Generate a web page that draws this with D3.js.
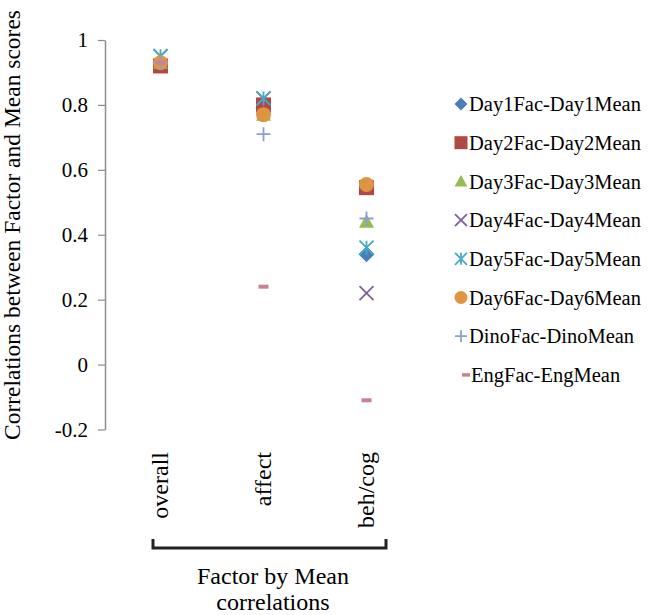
<!DOCTYPE html>
<html>
<head>
<meta charset="utf-8">
<script src="https://cdn.jsdelivr.net/npm/d3@7"></script>
<style>
  html, body { margin: 0; padding: 0; background: #fff; }
  svg { display: block; }
  text { font-family: "Liberation Serif", "Times New Roman", serif; fill: #000; }
</style>
</head>
<body>
<svg id="chart" width="658" height="615"></svg>
<script>
// ---------- data ----------
const categories = ["overall", "affect", "beh/cog"];
const seriesNames = ["Day1Fac-Day1Mean", "Day2Fac-Day2Mean", "Day3Fac-Day3Mean", "Day4Fac-Day4Mean",
                     "Day5Fac-Day5Mean", "Day6Fac-Day6Mean", "DinoFac-DinoMean", "EngFac-EngMean"];
const day1Values = [0.93, 0.79, 0.34];
const day2Values = [0.92, 0.80, 0.545];
const day3Values = [0.93, 0.77, 0.44];
const day4Values = [0.95, 0.82, 0.22];
const day5Values = [0.95, 0.82, 0.36];
const day6Values = [0.93, 0.77, 0.555];
const dinoValues = [0.93, 0.71, 0.45];
const engValues  = [0.93, 0.24, -0.11];
const yTickValues = [-0.2, 0, 0.2, 0.4, 0.6, 0.8, 1];
const yTickLabels = ["-0.2", "0", "0.2", "0.4", "0.6", "0.8", "1"];
const yAxisTitle = "Correlations between Factor and Mean scores";
const xAxisTitle = ["Factor by Mean", "correlations"];

// ---------- styling ----------
const seriesValues = [day1Values, day2Values, day3Values, day4Values, day5Values, day6Values, dinoValues, engValues];
const markerTypes = ["diamond", "square", "triangle", "x", "asterisk", "circle", "plus", "dash"];
const colors = ["#4A7EBB", "#B04845", "#98B954", "#7D60A0", "#46AAC5", "#DE9440", "#8A9FD4", "#C98390"];

const svg = d3.select("#chart");

const x = d3.scalePoint().domain(categories).range([109, 418]).padding(0.5);
const y = d3.scaleLinear().domain([-0.2, 1]).range([429.5, 40]);

// marker path generator (relative to centre)
function markerPath(type, s) {
  const h = s / 2;
  switch (type) {
    case "diamond": return `M0,${-h}L${h},0L0,${h}L${-h},0Z`;
    case "square": return `M${-h},${-h}H${h}V${h}H${-h}Z`;
    case "triangle": return `M0,${-h}L${h},${h * 0.8}L${-h},${h * 0.8}Z`;
    case "circle": return d3.symbol(d3.symbolCircle, Math.PI * h * h)();
    case "x": return `M${-h},${-h}L${h},${h}M${h},${-h}L${-h},${h}`;
    case "asterisk": return `M${-h},${-h}L${h},${h}M${h},${-h}L${-h},${h}M0,${-h}V${h}`;
    case "plus": return `M${-h},0H${h}M0,${-h}V${h}`;
    case "dash": return `M${-h},0H${h}`;
  }
}
const filled = { diamond: true, square: true, triangle: true, circle: true };
function styleMarker(sel, type, color) {
  if (filled[type]) {
    sel.attr("fill", color).attr("stroke", "none");
  } else if (type === "dash") {
    sel.attr("fill", "none").attr("stroke", color).attr("stroke-width", 4);
  } else {
    sel.attr("fill", "none").attr("stroke", color).attr("stroke-width", 1.8);
  }
}
const markerSize = { diamond: 16, square: 15, triangle: 15, circle: 15, x: 14, asterisk: 14, plus: 14, dash: 10 };

// ---------- y axis ----------
const yAxis = d3.axisLeft(y)
  .tickValues(yTickValues)
  .tickFormat((d, i) => yTickLabels[i])
  .tickSize(7)
  .tickSizeOuter(0)
  .tickPadding(10);

const gy = svg.append("g").attr("transform", "translate(105,0)").call(yAxis);
gy.select(".domain").attr("stroke", "#8c8c8c").attr("stroke-width", 1.5);
gy.selectAll(".tick line").attr("stroke", "#8c8c8c").attr("stroke-width", 1.2);
gy.selectAll(".tick text")
  .attr("font-family", "Liberation Serif, Times New Roman, serif")
  .attr("font-size", 21)
  .attr("fill", "#000");

// y title
svg.append("text")
  .attr("transform", `translate(20,225) rotate(-90)`)
  .attr("text-anchor", "middle")
  .attr("font-size", 23.5)
  .text(yAxisTitle);

// ---------- category labels ----------
svg.append("g").selectAll("text")
  .data(categories)
  .join("text")
  .attr("transform", d => `translate(${x(d) + 7},452) rotate(-90)`)
  .attr("text-anchor", "end")
  .attr("font-size", 24)
  .text(d => d);

// bracket
const bx0 = 153, bx1 = 386, by = 548;
svg.append("path")
  .attr("d", `M${bx0},${by - 9}V${by}H${bx1}V${by - 9}`)
  .attr("fill", "none")
  .attr("stroke", "#222")
  .attr("stroke-width", 3);

// x title
svg.append("text")
  .attr("x", 273).attr("y", 584)
  .attr("text-anchor", "middle")
  .attr("font-size", 24)
  .text(xAxisTitle[0]);
svg.append("text")
  .attr("x", 273).attr("y", 610)
  .attr("text-anchor", "middle")
  .attr("font-size", 24)
  .text(xAxisTitle[1]);

// ---------- points ----------
seriesValues.forEach((vals, si) => {
  const type = markerTypes[si];
  const g = svg.append("g").attr("class", "series");
  const p = g.selectAll("path")
    .data(vals.map((v, i) => ({ cat: categories[i], v })))
    .join("path")
    .attr("transform", d => `translate(${x(d.cat)},${y(d.v)})`)
    .attr("d", markerPath(type, markerSize[type]));
  styleMarker(p, type, colors[si]);
});

// ---------- legend ----------
const legend = svg.append("g");
seriesNames.forEach((name, i) => {
  const cy = 104 + i * 38.7;
  const type = markerTypes[i];
  const s = type === "dash" ? 8 : (filled[type] ? 13 : 12);
  const m = legend.append("path")
    .attr("transform", `translate(${type === "dash" ? 466 : 461},${cy})`)
    .attr("d", markerPath(type, s));
  styleMarker(m, type, colors[i]);
  if (type === "dash") m.attr("stroke-width", 3.5);
  legend.append("text")
    .attr("x", type === "dash" ? 471 : 469)
    .attr("y", cy)
    .attr("dy", "0.35em")
    .attr("font-size", 20.5)
    .text(name);
});
</script>
</body>
</html>
